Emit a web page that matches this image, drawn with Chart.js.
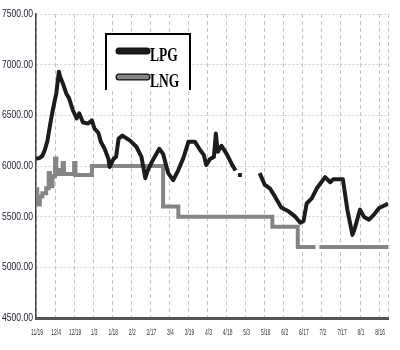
<!DOCTYPE html>
<html>
<head>
<meta charset="utf-8">
<script src="https://cdn.jsdelivr.net/npm/chart.js@4/dist/chart.umd.min.js"></script>
<style>
    html, body { margin: 0; padding: 0; background: #fff; }
</style>
</head>
<body>
<canvas id="myChart" width="400" height="350"></canvas>
<script>
// tick labels on the x axis, one every 15 days
var tickLabels = ['11/19', '12/4', '12/19', '1/3', '1/18', '2/2', '2/17', '3/4', '3/19', '4/3',
    '4/18', '5/3', '5/18', '6/2', '6/17', '7/2', '7/17', '8/1', '8/16'];
var tickStep = 15;
var lastDay = 277;

// LPG price, day offset from 11/19 (null = no data)
var lpgDays = [0, 3, 5, 7, 9, 11, 13, 16, 18, 19,
    21, 24, 26, 29, 32, 34, 37, 41, 44, 46,
    49, 51, 54, 57, 58, 61, 63, 65, 68, 74,
    79, 83, 86, 88, 92, 97, 100, 104, 108, 112,
    116, 120, 125, 129, 132, 134, 137, 140, 141.5, 143,
    146, 150, 154, 157, 158, 159, 162, 163, 176, 180,
    184, 188, 193, 199, 204, 208, 210.5, 213, 217, 221,
    227.5, 231.5, 234, 241.5, 245, 249, 251, 255, 258, 262,
    266, 270, 275, 277];
var lpgValues = [6070, 6080, 6100, 6160, 6250, 6400, 6540, 6720, 6930, 6880,
    6820, 6710, 6670, 6550, 6470, 6520, 6430, 6420, 6450, 6370,
    6330, 6240, 6170, 6070, 5990, 6070, 6090, 6270, 6300, 6250,
    6190, 6090, 5880, 5960, 6060, 6170, 6120, 5930, 5860, 5960,
    6080, 6240, 6240, 6160, 6110, 6010, 6070, 6090, 6320, 6140,
    6200, 6120, 6020, 5955, null, 5912, 5912, null, 5930, 5815,
    5780, 5700, 5590, 5550, 5500, 5440, 5455, 5630, 5680, 5780,
    5890, 5840, 5870, 5870, 5570, 5320, 5390, 5570, 5500, 5470,
    5520, 5585, 5615, 5630];

// LNG price, the value holds from each listed day on
var lngDays = [0, 1, 3, 5, 8, 10, 11, 13, 15, 16,
    18, 21, 22, 29, 30, 31, 42, 44, 100, 112,
    186, 206, 220, 221, 223, 277];
var lngValues = [5770, 5620, 5700, 5730, 5780, 5930, 5800, 5900, 6075, 5960,
    5920, 6030, 5920, 5920, 6030, 5910, 5910, 6000, 5600, 5500,
    5400, 5200, 5200, null, 5200, 5200];

function toPoints(days, values) {
    return days.map(function (d, i) {
        return {x: d, y: values[i]};
    });
}

// legend box drawn inside the plot, like the original
var boxLegend = {
    id: 'boxLegend',
    afterDraw: function (chart) {
        var ctx = chart.ctx;
        ctx.save();
        ctx.fillStyle = '#fff';
        ctx.fillRect(106, 34, 84, 56);
        ctx.strokeStyle = '#000';
        ctx.lineWidth = 2;
        ctx.beginPath();
        ctx.moveTo(106, 90);
        ctx.lineTo(106, 34);
        ctx.lineTo(190, 34);
        ctx.lineTo(190, 90);
        ctx.stroke();

        chart.data.datasets.forEach(function (ds, i) {
            var y = 51 + i * 26;
            ctx.beginPath();
            ctx.lineCap = 'round';
            ctx.lineWidth = 7;
            ctx.strokeStyle = '#111';
            ctx.moveTo(119, y);
            ctx.lineTo(147, y);
            ctx.stroke();
            ctx.lineWidth = 4.5;
            ctx.strokeStyle = ds.borderColor;
            ctx.stroke();

            ctx.save();
            ctx.fillStyle = '#000';
            ctx.font = 'bold 15px "Liberation Serif"';
            ctx.textBaseline = 'alphabetic';
            ctx.translate(150, y + 10);
            ctx.scale(0.9, 1.3);
            ctx.fillText(ds.label, 0, 0);
            ctx.restore();
        });
        ctx.restore();
    }
};

// narrow tick labels on both axes
var narrowLabels = {
    id: 'narrowLabels',
    afterDraw: function (chart) {
        var ctx = chart.ctx;
        var sx = chart.scales.x;
        var sy = chart.scales.y;
        ctx.save();
        ctx.fillStyle = '#333';
        ctx.font = '9px "Liberation Sans"';
        ctx.textAlign = 'center';
        ctx.textBaseline = 'middle';
        tickLabels.forEach(function (t, i) {
            var px = sx.getPixelForValue(i * tickStep);
            ctx.save();
            ctx.translate(px + 1, 333);
            ctx.scale(0.55, 1);
            ctx.fillText(t, 0, 0);
            ctx.restore();
        });

        ctx.fillStyle = '#1b1b30';
        ctx.font = '11px "Liberation Sans"';
        ctx.textAlign = 'right';
        sy.ticks.forEach(function (t) {
            var py = sy.getPixelForValue(t.value);
            ctx.save();
            ctx.translate(33, py);
            ctx.scale(0.78, 1);
            ctx.fillText(t.value.toFixed(2), 0, 0);
            ctx.restore();
        });
        ctx.restore();
    }
};

var ctx = document.getElementById('myChart').getContext('2d');
var myChart = new Chart(ctx, {
    type: 'line',
    data: {
        datasets: [{
                label: 'LPG',
                data: toPoints(lpgDays, lpgValues),
                borderColor: '#1c1c1c',
                borderWidth: 4,
                borderJoinStyle: 'round',
                pointRadius: 0,
                tension: 0,
                spanGaps: false
            }, {
                label: 'LNG',
                data: toPoints(lngDays, lngValues),
                borderColor: '#858585',
                borderWidth: 4,
                pointRadius: 0,
                stepped: 'before',
                spanGaps: false
            }]
    },
    options: {
        responsive: false,
        animation: false,
        layout: {
            padding: {top: 14, right: 12, bottom: 0, left: 0}
        },
        plugins: {
            legend: {display: false},
            tooltip: {enabled: false}
        },
        scales: {
            x: {
                type: 'linear',
                min: 0,
                max: lastDay,
                afterBuildTicks: function (s) {
                    s.ticks = tickLabels.map(function (t, i) {
                        return {value: i * tickStep};
                    });
                    s.ticks.push({value: lastDay});
                },
                afterFit: function (s) {
                    s.height = 32;
                },
                ticks: {display: false},
                grid: {
                    color: '#c4c4c4',
                    lineWidth: 1,
                    drawTicks: false
                },
                border: {
                    color: '#555',
                    width: 3,
                    dash: [4, 3]
                }
            },
            y: {
                min: 4500,
                max: 7500,
                afterFit: function (s) {
                    s.width = 36;
                },
                ticks: {
                    display: false,
                    stepSize: 500
                },
                grid: {
                    color: '#cfcfcf',
                    lineWidth: 1,
                    drawTicks: false
                },
                border: {
                    color: '#444',
                    width: 1.5,
                    dash: [2, 2]
                }
            }
        }
    },
    plugins: [boxLegend, narrowLabels]
});
</script>
</body>
</html>
